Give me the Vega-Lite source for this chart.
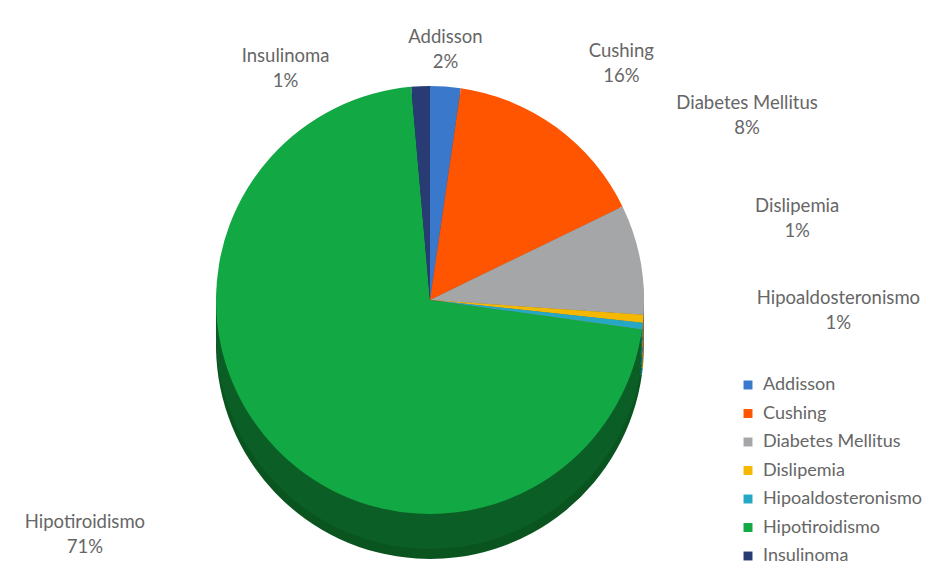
{
  "$schema": "https://vega.github.io/schema/vega-lite/v6.json",
  "width": 860,
  "height": 580,
  "autosize": {"type": "none"},
  "padding": {"left": 0, "top": 0, "right": 78, "bottom": 0},
  "background": "white",
  "config": {"view": {"stroke": null}, "text": {"font": "Lato"}},
  "data": {
    "values": [
      {"cat": "Addisson", "v": 2.3},
      {"cat": "Cushing", "v": 15.5},
      {"cat": "Diabetes Mellitus", "v": 8.3},
      {"cat": "Dislipemia", "v": 0.6},
      {"cat": "Hipoaldosteronismo", "v": 0.5},
      {"cat": "Hipotiroidismo", "v": 71.4},
      {"cat": "Insulinoma", "v": 1.4}
    ]
  },
  "transform": [
    {"calculate": "datum.cat + '\\n' + round(datum.v) + '%'", "as": "label"}
  ],
  "encoding": {
    "theta": {"field": "v", "type": "quantitative", "stack": true},
    "order": {"field": "cat", "type": "ordinal", "sort": "ascending"}
  },
  "layer": [
    {
      "mark": {"type": "arc", "radius": 214, "yOffset": 55},
      "encoding": {"color": {"field": "cat", "type": "nominal", "legend": null, "scale": {"domain": ["Addisson","Cushing","Diabetes Mellitus","Dislipemia","Hipoaldosteronismo","Hipotiroidismo","Insulinoma"], "range": ["#1f4a8a","#a83a00","#6e6e70","#a87e00","#16707f","#0a5420","#17264a"]}}}
    },
    {
      "mark": {"type": "arc", "radius": 214, "yOffset": 45},
      "encoding": {"color": {"field": "cat", "type": "nominal", "legend": null, "scale": {"domain": ["Addisson","Cushing","Diabetes Mellitus","Dislipemia","Hipoaldosteronismo","Hipotiroidismo","Insulinoma"], "range": ["#1f4a8a","#a83a00","#6e6e70","#a87e00","#16707f","#0b5e25","#17264a"]}}}
    },
    {
      "mark": {"type": "arc", "radius": 214, "yOffset": 35},
      "encoding": {"color": {"field": "cat", "type": "nominal", "legend": null, "scale": {"domain": ["Addisson","Cushing","Diabetes Mellitus","Dislipemia","Hipoaldosteronismo","Hipotiroidismo","Insulinoma"], "range": ["#1f4a8a","#a83a00","#6e6e70","#a87e00","#16707f","#0b5e25","#17264a"]}}}
    },
    {
      "mark": {"type": "arc", "radius": 214, "yOffset": 25},
      "encoding": {"color": {"field": "cat", "type": "nominal", "legend": null, "scale": {"domain": ["Addisson","Cushing","Diabetes Mellitus","Dislipemia","Hipoaldosteronismo","Hipotiroidismo","Insulinoma"], "range": ["#1f4a8a","#a83a00","#6e6e70","#a87e00","#16707f","#0b5e25","#17264a"]}}}
    },
    {
      "mark": {"type": "arc", "radius": 214, "yOffset": 17},
      "encoding": {"color": {"field": "cat", "type": "nominal", "legend": null, "scale": {"domain": ["Addisson","Cushing","Diabetes Mellitus","Dislipemia","Hipoaldosteronismo","Hipotiroidismo","Insulinoma"], "range": ["#1f4a8a","#a83a00","#6e6e70","#a87e00","#16707f","#0b5e25","#17264a"]}}}
    },
    {
      "mark": {"type": "arc", "radius": 214, "yOffset": 10},
      "encoding": {"color": {"field": "cat", "type": "nominal", "title": null, "scale": {"domain": ["Addisson","Cushing","Diabetes Mellitus","Dislipemia","Hipoaldosteronismo","Hipotiroidismo","Insulinoma"], "range": ["#3a78cc","#ff5500","#a5a6a8","#f5b800","#26a8c4","#12a844","#283c73"]},
        "legend": {"orient": "none", "legendX": 739, "legendY": 376, "symbolType": "square", "symbolSize": 80, "symbolStrokeWidth": 0, "labelFont": "Lato", "labelFontSize": 18, "labelColor": "#666666", "rowPadding": 10.5, "labelOffset": 6, "labelLimit": 300}}}
    },
    {"mark": {"type": "text", "radius": 214, "yOffset": 10, "dx": 0, "dy": -50, "lineBreak": "\n", "fontSize": 18.5, "color": "#666666", "lineHeight": 25},
     "encoding": {"text": {"condition": {"test": "datum.cat === 'Addisson'", "field": "label"}, "value": ""}}},
    {"mark": {"type": "text", "radius": 214, "yOffset": 10, "dx": -135, "dy": -30, "lineBreak": "\n", "fontSize": 18.5, "color": "#666666", "lineHeight": 25},
     "encoding": {"text": {"condition": {"test": "datum.cat === 'Insulinoma'", "field": "label"}, "value": ""}}},
    {"mark": {"type": "text", "radius": 214, "yOffset": 10, "dx": 65, "dy": -76, "lineBreak": "\n", "fontSize": 18.5, "color": "#666666", "lineHeight": 25},
     "encoding": {"text": {"condition": {"test": "datum.cat === 'Cushing'", "field": "label"}, "value": ""}}},
    {"mark": {"type": "text", "radius": 214, "yOffset": 10, "dx": 107, "dy": -156, "lineBreak": "\n", "fontSize": 18.5, "color": "#666666", "lineHeight": 25},
     "encoding": {"text": {"condition": {"test": "datum.cat === 'Diabetes Mellitus'", "field": "label"}, "value": ""}}},
    {"mark": {"type": "text", "radius": 214, "yOffset": 10, "dx": 154, "dy": -113, "lineBreak": "\n", "fontSize": 18.5, "color": "#666666", "lineHeight": 25},
     "encoding": {"text": {"condition": {"test": "datum.cat === 'Dislipemia'", "field": "label"}, "value": ""}}},
    {"mark": {"type": "text", "radius": 214, "yOffset": 10, "dx": 196, "dy": -28, "lineBreak": "\n", "fontSize": 18.5, "color": "#666666", "lineHeight": 25},
     "encoding": {"text": {"condition": {"test": "datum.cat === 'Hipoaldosteronismo'", "field": "label"}, "value": ""}}},
    {"mark": {"type": "text", "radius": 214, "yOffset": 10, "dx": -190, "dy": 75, "lineBreak": "\n", "fontSize": 18.5, "color": "#666666", "lineHeight": 25},
     "encoding": {"text": {"condition": {"test": "datum.cat === 'Hipotiroidismo'", "field": "label"}, "value": ""}}}
  ],
  "resolve": {"scale": {"color": "independent"}}
}
